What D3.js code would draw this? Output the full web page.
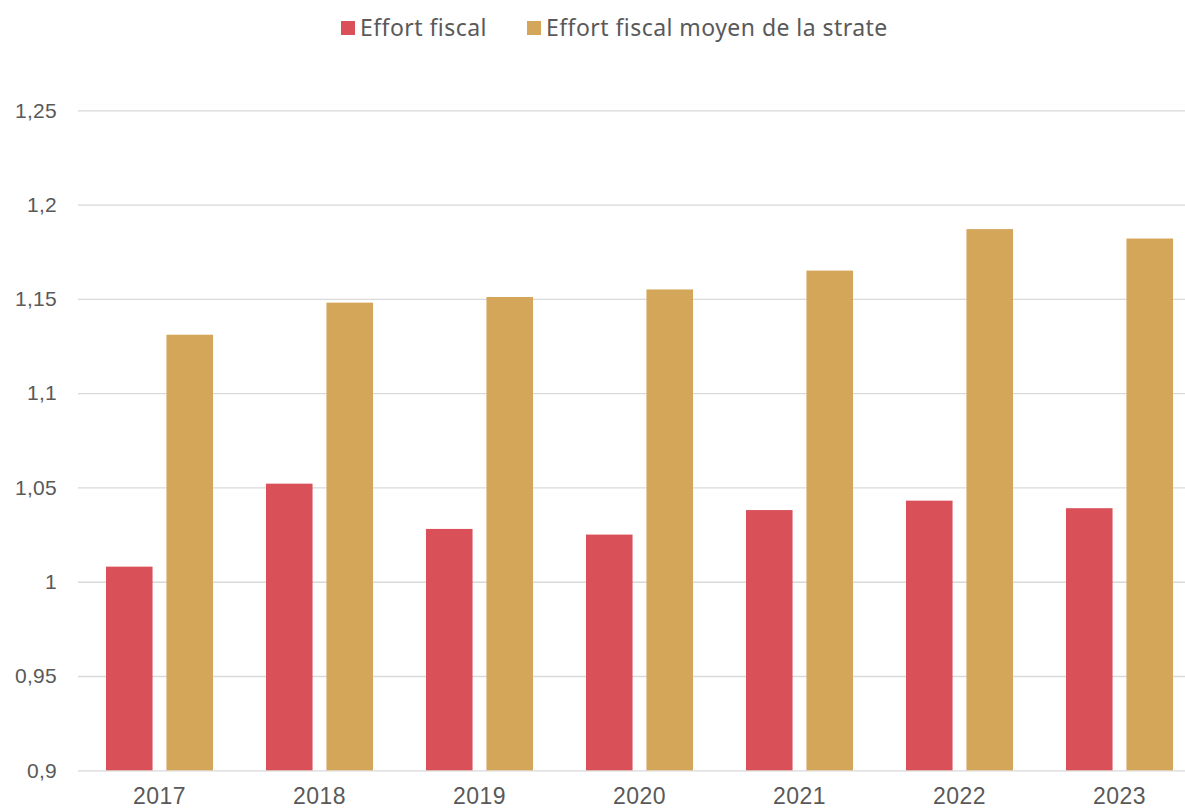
<!DOCTYPE html>
<html>
<head>
<meta charset="utf-8">
<script src="https://cdn.jsdelivr.net/npm/d3@7"></script>
<style>
  html, body { margin: 0; padding: 0; background: #ffffff; }
  svg { display: block; font-family: "Noto Sans", "Open Sans", sans-serif; }
</style>
</head>
<body>
<svg id="chart" width="1185" height="810"></svg>
<script>
// Années et séries
const years = ["2017", "2018", "2019", "2020", "2021", "2022", "2023"];
const effortFiscal = [1.008, 1.052, 1.028, 1.025, 1.038, 1.043, 1.039];
const effortStrate = [1.131, 1.148, 1.151, 1.155, 1.165, 1.187, 1.182];
const seriesNames = ["Effort fiscal", "Effort fiscal moyen de la strate"];
const seriesColors = ["#d95059", "#d4a65a"];
const yTicks = [0.9, 0.95, 1, 1.05, 1.1, 1.15, 1.2, 1.25];

const svg = d3.select("#chart");
const plot = { left: 78, right: 1185, top: 110.3, bottom: 770.3 };

const y = d3.scaleLinear().domain([0.9, 1.25]).range([plot.bottom, plot.top]);
const x = d3.scaleBand().domain(years).range([79.5, 1199.5]).paddingInner(0.331).paddingOuter(0.1655);
const xs = d3.scaleBand().domain([0, 1]).range([0, x.bandwidth()]).paddingInner(0.23);

const fmt = v => String(+v.toFixed(2)).replace(".", ",");

// Quadrillage horizontal et graduations
const yAxis = d3.axisLeft(y).tickValues(yTicks).tickFormat(fmt)
  .tickSize(-(plot.right - plot.left)).tickPadding(21);
const gy = svg.append("g").attr("transform", `translate(${plot.left},0)`).call(yAxis);
gy.select(".domain").remove();
gy.selectAll(".tick line").attr("stroke", "#d9d9d9").attr("stroke-width", 1.3);
gy.selectAll(".tick text").attr("fill", "#595959").attr("font-size", 21)
  .attr("font-family", "inherit").attr("letter-spacing", "0.3px");

// Barres
const rows = years.map((yr, i) => ({ year: yr, vals: [effortFiscal[i], effortStrate[i]] }));
const groups = svg.append("g").selectAll("g").data(rows).join("g")
  .attr("transform", d => `translate(${x(d.year)},0)`);
groups.selectAll("rect").data(d => d.vals.map((v, k) => ({ v, k }))).join("rect")
  .attr("x", d => xs(d.k))
  .attr("width", xs.bandwidth())
  .attr("y", d => y(d.v))
  .attr("height", d => y(0.9) - y(d.v))
  .attr("fill", d => seriesColors[d.k]);

// Axe des années
const xAxis = d3.axisBottom(x).tickSize(0).tickPadding(17);
const gx = svg.append("g").attr("transform", `translate(0,${plot.bottom})`).call(xAxis);
gx.select(".domain").remove();
gx.selectAll(".tick text").attr("fill", "#595959").attr("font-size", 23)
  .attr("font-family", "inherit").attr("letter-spacing", "0.5px");

// Légende
const legendItems = [
  { name: seriesNames[0], color: seriesColors[0], x: 341 },
  { name: seriesNames[1], color: seriesColors[1], x: 527 }
];
const lg = svg.append("g");
legendItems.forEach(it => {
  lg.append("rect").attr("x", it.x).attr("y", 21).attr("width", 14).attr("height", 14).attr("fill", it.color);
  lg.append("text").attr("x", it.x + 19).attr("y", 28).attr("dy", "0.35em")
    .attr("font-size", 23).attr("letter-spacing", "0.45px")
    .attr("fill", "#595959").text(it.name);
});
</script>
</body>
</html>
